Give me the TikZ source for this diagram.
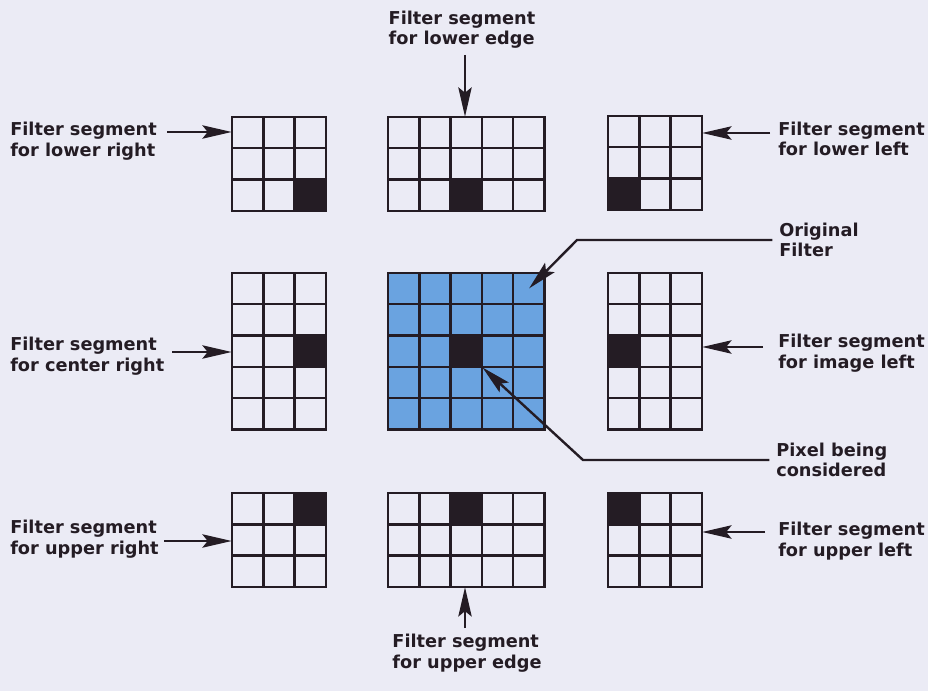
\documentclass[tikz,border=0pt]{standalone}
\usepackage{fontspec}
\setmainfont{DejaVu Sans}
\usetikzlibrary{arrows.meta,positioning,fit}
\definecolor{pagebg}{RGB}{235,235,245}
\definecolor{ink}{RGB}{36,28,36}
\definecolor{filterblue}{RGB}{106,163,224}
\tikzset{
  >={Stealth[length=22pt,width=10pt,inset=4pt]},
  gridline/.style={draw=ink, line width=1.8pt, line cap=rect},
  darkpix/.style={fill=ink, draw=none, inner sep=0pt, minimum size=23.5pt},
  lbl/.style={font=\bfseries\fontsize{13.3}{15.5}\selectfont, text=ink, align=left, inner sep=0pt},
  pointer/.style={->, draw=ink, line width=1.8pt},
}
\def\cellw{31.3}
\newcommand\segment[7]{%
  \begin{scope}[shift={#2}]
    \fill[#7] (0,0) rectangle ({#3*\cellw},{#4*\cellw});
    \node[darkpix, anchor=north west] (#1-px) at ({(#5-1)*\cellw},{(#6-1)*\cellw}) {};
    \foreach \i in {0,...,#3}
      \draw[gridline] ({\i*\cellw},0) -- ({\i*\cellw},{#4*\cellw});
    \foreach \j in {0,...,#4}
      \draw[gridline] (0,{\j*\cellw}) -- ({#3*\cellw},{\j*\cellw});
    \node[fit={(0,0) ({#3*\cellw},{#4*\cellw})}, inner sep=0pt] (#1) {};
  \end{scope}}

\begin{document}
\begin{tikzpicture}[x=0.75pt, y=-0.75pt]
    \fill[pagebg] (0,0) rectangle (928,691);

    \segment{lr}{(232,117)}{3}{3}{3}{3}{pagebg}
    \segment{le}{(388,117)}{5}{3}{3}{3}{pagebg}
    \segment{ll}{(608,116)}{3}{3}{1}{3}{pagebg}
    \segment{cr}{(232,273)}{3}{5}{3}{3}{pagebg}
    \segment{orig}{(388,273)}{5}{5}{3}{3}{filterblue}
    \segment{il}{(608,273)}{3}{5}{1}{3}{pagebg}
    \segment{ur}{(232,493)}{3}{3}{3}{1}{pagebg}
    \segment{ue}{(388,493)}{5}{3}{3}{1}{pagebg}
    \segment{ul}{(608,493)}{3}{3}{1}{1}{pagebg}

    \node[lbl, anchor=west]  (l-lr) at (10,141) {Filter segment\\for lower right};
    \node[lbl, anchor=west]  (l-cr) at (10,356) {Filter segment\\for center right};
    \node[lbl, anchor=west]  (l-ur) at (10,539) {Filter segment\\for upper right};
    \node[lbl, anchor=west]  (l-ll) at (778,139) {Filter segment\\for lower left};
    \node[lbl, anchor=west]  (l-il) at (778,353) {Filter segment\\for image left};
    \node[lbl, anchor=west]  (l-ul) at (778,541) {Filter segment\\for upper left};
    \node[lbl, anchor=south] (l-le) at (462,49) {Filter segment\\for lower edge};
    \node[lbl, anchor=north] (l-ue) at (467,634) {Filter segment\\for upper edge};
    \node[lbl, anchor=west]  (l-orig) at (779,240) {Original\\Filter};
    \node[lbl, anchor=west]  (l-pix) at (776,460) {Pixel being\\considered};

    \coordinate (a-lr) at (167,132);
    \coordinate (a-cr) at (172,352);
    \coordinate (a-ur) at (164,541);
    \coordinate (a-ll) at (770,133);
    \coordinate (a-il) at (763,347);
    \coordinate (a-ul) at (765,532);
    \coordinate (a-le) at (465,55);
    \coordinate (a-ue) at (465,628);
    \coordinate (b-orig) at (577,240);
    \coordinate (b-pix) at (583,460);

    \draw[pointer] (a-lr) -- (a-lr -| lr.west);
    \draw[pointer] (a-cr) -- (a-cr -| cr.west);
    \draw[pointer] (a-ur) -- (a-ur -| ur.west);
    \draw[pointer] (a-ll) -- (a-ll -| ll.east);
    \draw[pointer] (a-il) -- (a-il -| il.east);
    \draw[pointer] (a-ul) -- (a-ul -| ul.east);
    \draw[pointer] (a-le) -- (a-le |- le.north);
    \draw[pointer] (a-ue) -- (a-ue |- ue.south);
    \draw[pointer] ([xshift=-5pt]l-orig.west) -- (b-orig) -- ([shift={(-15.65,15.65)}]orig.north east);
    \draw[pointer] ([xshift=-5pt]l-pix.west) -- (b-pix) -- (orig-px.south east);
\end{tikzpicture}
\end{document}
